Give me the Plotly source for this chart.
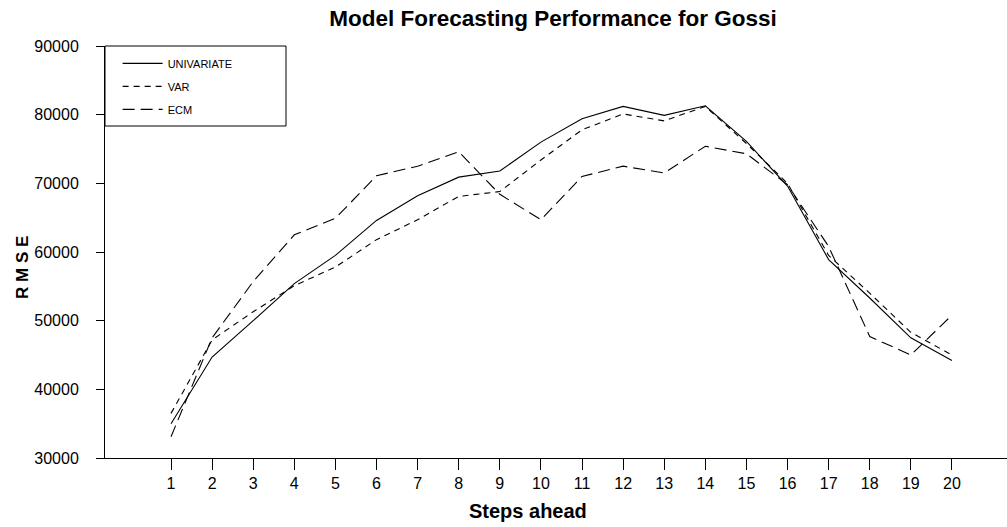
import plotly.graph_objects as go

# Forecast horizon (steps ahead) and RMSE of each model
steps = list(range(1, 21))
univariate = [35000, 44700, 50000, 55400, 59500, 64600, 68200, 70900, 71800, 76000,
              79400, 81200, 79900, 81300, 76100, 69600, 58900, 53300, 47500, 44200]
var_model = [36500, 47200, 51300, 55100, 57800, 61800, 64700, 68100, 68800, 73400,
             77800, 80100, 79100, 81200, 75800, 70000, 59500, 54000, 48300, 45000]
ecm = [33100, 47500, 55700, 62500, 64900, 71100, 72500, 74600, 68400, 64700,
       71000, 72500, 71500, 75400, 74300, 69800, 60800, 47700, 45000, 50800]

series_names = ["UNIVARIATE", "VAR", "ECM"]
y_ticks = [30000, 40000, 50000, 60000, 70000, 80000, 90000]

FONT = "Liberation Sans, Arial, Helvetica, sans-serif"

fig = go.Figure()
styles = ["solid", "6px,5px", "12px,6px"]
for name, vals, dash in zip(series_names, [univariate, var_model, ecm], styles):
    fig.add_trace(go.Scatter(
        x=steps, y=vals, name=name, mode="lines", legendgroup=name,
        line=dict(color="black", width=1.1, dash=dash),
    ))

fig.update_layout(
    width=1007, height=527,
    margin=dict(l=105, r=0, t=46, b=69),
    paper_bgcolor="white", plot_bgcolor="white",
    font=dict(family=FONT, color="black", size=16),
    title=dict(text="<b>Model Forecasting Performance for Gossi</b>",
               x=553 / 1007, xanchor="center", y=1 - 18 / 527, yanchor="middle",
               font=dict(size=22.5, family=FONT, color="black")),
    showlegend=True,
    legend=dict(x=0.014, y=0.993, xanchor="left", yanchor="top",
                bgcolor="rgba(0,0,0,0)", borderwidth=0,
                font=dict(size=11, family=FONT, color="black"),
                tracegroupgap=4, itemwidth=40),
)

fig.update_xaxes(
    range=[-0.606, 21.34], tickmode="array", tickvals=steps,
    ticktext=[str(s) for s in steps],
    showline=True, linecolor="black", linewidth=1,
    ticks="outside", ticklen=11, tickcolor="black", tickwidth=1,
    showgrid=False, zeroline=False, tickfont=dict(size=16),
)
fig.update_yaxes(
    range=[30000, 90000], tickmode="array", tickvals=y_ticks,
    ticktext=[str(v) for v in y_ticks],
    showline=True, linecolor="black", linewidth=1,
    ticks="outside", ticklen=8, tickcolor="black", tickwidth=1,
    showgrid=False, zeroline=False, tickfont=dict(size=16),
    ticklabelstandoff=14,
)

# Legend frame
fig.add_shape(type="rect", xref="paper", yref="paper",
              x0=0, x1=(286 - 105) / 902, y0=(458 - 126) / 412, y1=1,
              line=dict(color="black", width=1), fillcolor="rgba(0,0,0,0)")

# Axis titles
fig.add_annotation(text="<b>Steps ahead</b>", xref="paper", yref="paper",
                   x=(528 - 105) / 902, y=(458 - 511) / 412, showarrow=False,
                   xanchor="center", yanchor="middle", font=dict(size=20))
fig.add_annotation(text="<b>R M S E</b>", xref="paper", yref="paper",
                   x=(22 - 105) / 902, y=(458 - 268) / 412, showarrow=False,
                   textangle=-90, xanchor="center", yanchor="middle",
                   font=dict(size=17))

fig.write_html("out.html")
